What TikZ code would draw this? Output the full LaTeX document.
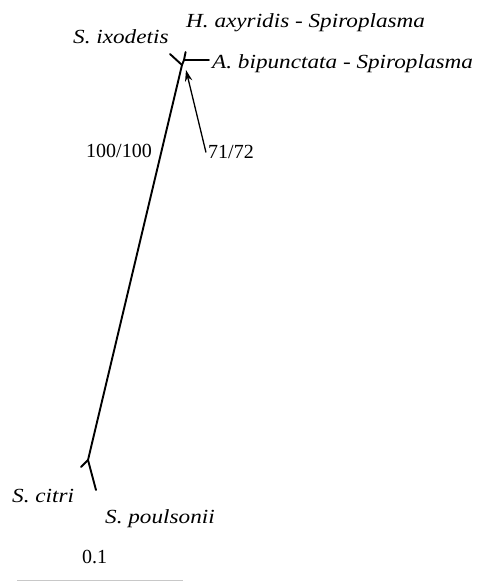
\documentclass[tikz,border=0pt]{standalone}
\usepackage{fontspec}
\setmainfont{Liberation Serif}
\newfontfamily\taxfont{Liberation Serif}[FakeStretch=1.16]
\usepackage{xcolor}
\usetikzlibrary{arrows.meta, positioning, calc}
\definecolor{scalegray}{RGB}{200, 200, 200}
\tikzstyle{taxon} = [inner sep=0pt, font=\fontsize{20}{23}\taxfont\itshape]
\tikzstyle{support} = [inner sep=0pt, font=\fontsize{20}{23}\selectfont]
\tikzstyle{branch} = [line width=1.9pt, line cap=round]
\tikzstyle{arrow} = [-{Stealth[length=4mm, width=2.6mm]}, line width=1.3pt]

\begin{document}
\begin{tikzpicture}[x=1pt, y=-1pt]
    \useasboundingbox (0,0) rectangle (478,582);

    % Internal nodes and tips
    \coordinate (top) at (182,65);
    \coordinate (lady) at (184,60);
    \coordinate (bot) at (88,460);
    \coordinate (ixo) at (170,54);
    \coordinate (axy) at (185.6,52);
    \coordinate (bip) at (209,60);
    \coordinate (cit) at (81,467);
    \coordinate (pou) at (96,490);

    % Tree branches
    \draw[branch] (bot) -- (top);
    \draw[branch] (top) -- (ixo);
    \draw[branch] (top) -- (lady) -- (axy);
    \draw[branch] (lady) -- (bip);
    \draw[branch] (bot) -- (cit);
    \draw[branch] (bot) -- (pou);

    % Taxon names
    \node[taxon, anchor=base west] (nhax) at (186,27) {H. axyridis - Spiroplasma};
    \node[taxon, anchor=base west] (nsix) at (73,43) {S. ixodetis};
    \node[taxon, anchor=base west] (nabi) at (212,68) {A. bipunctata - Spiroplasma};
    \node[taxon, anchor=base west] (nsci) at (12,502) {S. citri};
    \node[taxon, anchor=base west] (nspo) at (105,523) {S. poulsonii};

    % Support values
    \node[support, anchor=base west] (s100) at (86,157) {100/100};
    \node[support, anchor=base west] (s71) at (208,158) {71/72};
    \coordinate (s71tip) at (186,70);
    \draw[arrow] ($(s71.west)+(-2,1)$) -- (s71tip);

    % Scale bar
    \node[support, anchor=base west] (sc) at (82,563) {0.1};
    \coordinate (sbl) at (17,580.5);
    \coordinate (sbr) at (183,580.5);
    \draw[scalegray, line width=1.5pt] (sbl) -- (sbr);
\end{tikzpicture}
\end{document}
